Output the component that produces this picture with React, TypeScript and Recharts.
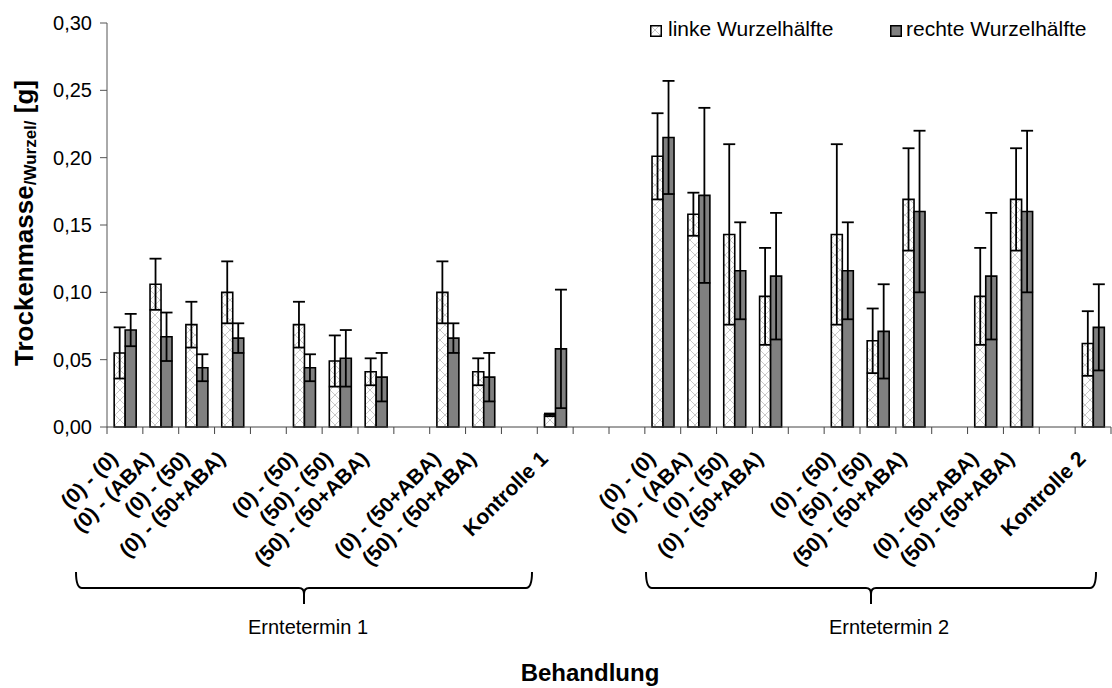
import React from "react";
import { BarChart, Bar, XAxis, YAxis, ErrorBar, Legend } from "recharts";

// 28 slots along the x axis; empty strings are spacer slots between treatment blocks
const CATEGORIES = [
  "(0) - (0)", "(0) - (ABA)", "(0) - (50)", "(0) - (50+ABA)", "",
  "(0) - (50)", "(50) - (50)", "(50) - (50+ABA)", "",
  "(0) - (50+ABA)", "(50) - (50+ABA)", "", "Kontrolle 1", "", "",
  "(0) - (0)", "(0) - (ABA)", "(0) - (50)", "(0) - (50+ABA)", "",
  "(0) - (50)", "(50) - (50)", "(50) - (50+ABA)", "",
  "(0) - (50+ABA)", "(50) - (50+ABA)", "", "Kontrolle 2",
];

const LEFT = [
  0.055, 0.106, 0.076, 0.1, null, 0.076, 0.049, 0.041, null, 0.1, 0.041, null, 0.009, null, null,
  0.201, 0.158, 0.143, 0.097, null, 0.143, 0.064, 0.169, null, 0.097, 0.169, null, 0.062,
];
const LEFT_ERR = [
  0.019, 0.019, 0.017, 0.023, null, 0.017, 0.019, 0.01, null, 0.023, 0.01, null, 0.001, null, null,
  0.032, 0.016, 0.067, 0.036, null, 0.067, 0.024, 0.038, null, 0.036, 0.038, null, 0.024,
];
const RIGHT = [
  0.072, 0.067, 0.044, 0.066, null, 0.044, 0.051, 0.037, null, 0.066, 0.037, null, 0.058, null, null,
  0.215, 0.172, 0.116, 0.112, null, 0.116, 0.071, 0.16, null, 0.112, 0.16, null, 0.074,
];
const RIGHT_ERR = [
  0.012, 0.018, 0.01, 0.011, null, 0.01, 0.021, 0.018, null, 0.011, 0.018, null, 0.044, null, null,
  0.042, 0.065, 0.036, 0.047, null, 0.036, 0.035, 0.06, null, 0.047, 0.06, null, 0.032,
];

const Y_TICKS = [0, 0.05, 0.1, 0.15, 0.2, 0.25, 0.3];
const SERIES_NAMES = ["linke Wurzelhälfte", "rechte Wurzelhälfte"];
const GROUP_LABELS = ["Erntetermin 1", "Erntetermin 2"];

const WIDTH = 1112;
const HEIGHT = 688;
const PLOT_LEFT = 107;
const PLOT_RIGHT = 1111;
const BAND = (PLOT_RIGHT - PLOT_LEFT) / CATEGORIES.length;

const data = CATEGORIES.map((_, i) => ({
  slot: i,
  left: LEFT[i],
  leftErr: LEFT_ERR[i],
  right: RIGHT[i],
  rightErr: RIGHT_ERR[i],
}));

const fmt = (v: number) => v.toFixed(2).replace(".", ",");

function HatchDef({ id }: { id: string }) {
  return (
    <pattern id={id} patternUnits="userSpaceOnUse" width={10} height={10}>
      <rect width={10} height={10} fill="#fff" />
      <path d="M0,0 L10,10 M10,0 L0,10" stroke="#c8c8c8" strokeWidth={1} />
    </pattern>
  );
}

// ticks sit on the category boundaries, labels rotated under the category
function CategoryTick(props: any) {
  const { x, y, payload, index } = props;
  const name = CATEGORIES[payload.value];
  const half = BAND / 2;
  const ax = x - 6;
  const ay = y + 33;
  return (
    <g>
      <line x1={x - half} x2={x - half} y1={y} y2={y + 7} stroke="#444" />
      {index === CATEGORIES.length - 1 && (
        <line x1={x + half} x2={x + half} y1={y} y2={y + 7} stroke="#444" />
      )}
      {name && (
        <text
          x={ax}
          y={ay}
          transform={`rotate(-45 ${ax} ${ay})`}
          textAnchor="end"
          fontSize={21}
          fontWeight="bold"
          fill="#000"
        >
          {name}
        </text>
      )}
    </g>
  );
}

function brace(x1: number, xm: number, x2: number, y: number) {
  const h = 16;
  return (
    `M${x1},${y - h} Q${x1},${y} ${x1 + 6},${y} L${xm - 5},${y} Q${xm},${y} ${xm},${y + 6} L${xm},${y + h}` +
    ` M${xm},${y + 6} Q${xm},${y} ${xm + 5},${y} L${x2 - 6},${y} Q${x2},${y} ${x2},${y - h}`
  );
}

function GroupBraces() {
  const by = 588;
  return (
    <g>
      <path d={brace(76, 304, 532, by)} fill="none" stroke="#000" strokeWidth={2} />
      <path d={brace(646, 871, 1096, by)} fill="none" stroke="#000" strokeWidth={2} />
      <text x={308} y={634} textAnchor="middle" fontSize={20} fill="#000">
        {GROUP_LABELS[0]}
      </text>
      <text x={889} y={634} textAnchor="middle" fontSize={20} fill="#000">
        {GROUP_LABELS[1]}
      </text>
      <text x={590} y={681} textAnchor="middle" fontSize={24} fontWeight="bold" fill="#000">
        Behandlung
      </text>
    </g>
  );
}

function YTitle() {
  return (
    <text
      x={0}
      y={0}
      transform="translate(33 223) rotate(-90)"
      textAnchor="middle"
      fontWeight="bold"
      fontSize={26}
      fill="#000"
    >
      Trockenmasse
      <tspan fontSize={17} dy={3}>/Wurzel/</tspan>
      <tspan dy={-3}> [g]</tspan>
    </text>
  );
}

function LegendContent() {
  return (
    <div style={{ position: "relative", height: 28, fontSize: 21, lineHeight: 1, color: "#000" }}>
      <svg style={{ position: "absolute", left: 10, top: 9 }} width={12} height={12}>
        <defs>
          <HatchDef id="hatch-legend" />
        </defs>
        <rect x={0.75} y={0.75} width={10.5} height={10.5} fill="url(#hatch-legend)" stroke="#000" strokeWidth={1.5} />
      </svg>
      <span style={{ position: "absolute", left: 28, top: 2, whiteSpace: "nowrap" }}>{SERIES_NAMES[0]}</span>
      <svg style={{ position: "absolute", left: 250, top: 9 }} width={12} height={12}>
        <rect x={0.75} y={0.75} width={10.5} height={10.5} fill="#808080" stroke="#000" strokeWidth={1.5} />
      </svg>
      <span style={{ position: "absolute", left: 266, top: 2, whiteSpace: "nowrap" }}>{SERIES_NAMES[1]}</span>
    </div>
  );
}

export default function App() {
  return (
    <div
      style={{
        position: "absolute",
        left: 0,
        top: 0,
        width: WIDTH,
        height: HEIGHT,
        background: "#fff",
        fontFamily: "'Liberation Sans', Arial, sans-serif",
      }}
    >
      <BarChart
        width={WIDTH}
        height={HEIGHT}
        data={data}
        margin={{ top: 23, right: WIDTH - PLOT_RIGHT, bottom: 0, left: 0 }}
        barCategoryGap="20%"
        barGap={0}
      >
        <defs>
          <HatchDef id="hatch" />
        </defs>
        <XAxis
          dataKey="slot"
          type="category"
          height={261}
          interval={0}
          tickLine={false}
          tickSize={0}
          tickMargin={0}
          axisLine={{ stroke: "#444" }}
          tick={<CategoryTick />}
          label={<GroupBraces />}
        />
        <YAxis
          width={PLOT_LEFT}
          domain={[0, 0.3]}
          ticks={Y_TICKS}
          tickFormatter={fmt}
          tickSize={7}
          tickMargin={8}
          tickLine={{ stroke: "#555" }}
          axisLine={{ stroke: "#555" }}
          tick={{ fontSize: 20, fill: "#000" }}
          label={<YTitle />}
        />
        <Legend
          verticalAlign="middle"
          align="center"
          content={<LegendContent />}
          wrapperStyle={{ top: 16, left: 640, width: 470, height: 28 }}
        />
        <Bar
          dataKey="left"
          name={SERIES_NAMES[0]}
          fill="url(#hatch)"
          stroke="#000"
          strokeWidth={1.6}
          isAnimationActive={false}
        >
          <ErrorBar dataKey="leftErr" width={6} stroke="#000" strokeWidth={1.8} />
        </Bar>
        <Bar
          dataKey="right"
          name={SERIES_NAMES[1]}
          fill="#808080"
          stroke="#000"
          strokeWidth={1.6}
          isAnimationActive={false}
        >
          <ErrorBar dataKey="rightErr" width={6} stroke="#000" strokeWidth={1.8} />
        </Bar>
      </BarChart>
    </div>
  );
}
